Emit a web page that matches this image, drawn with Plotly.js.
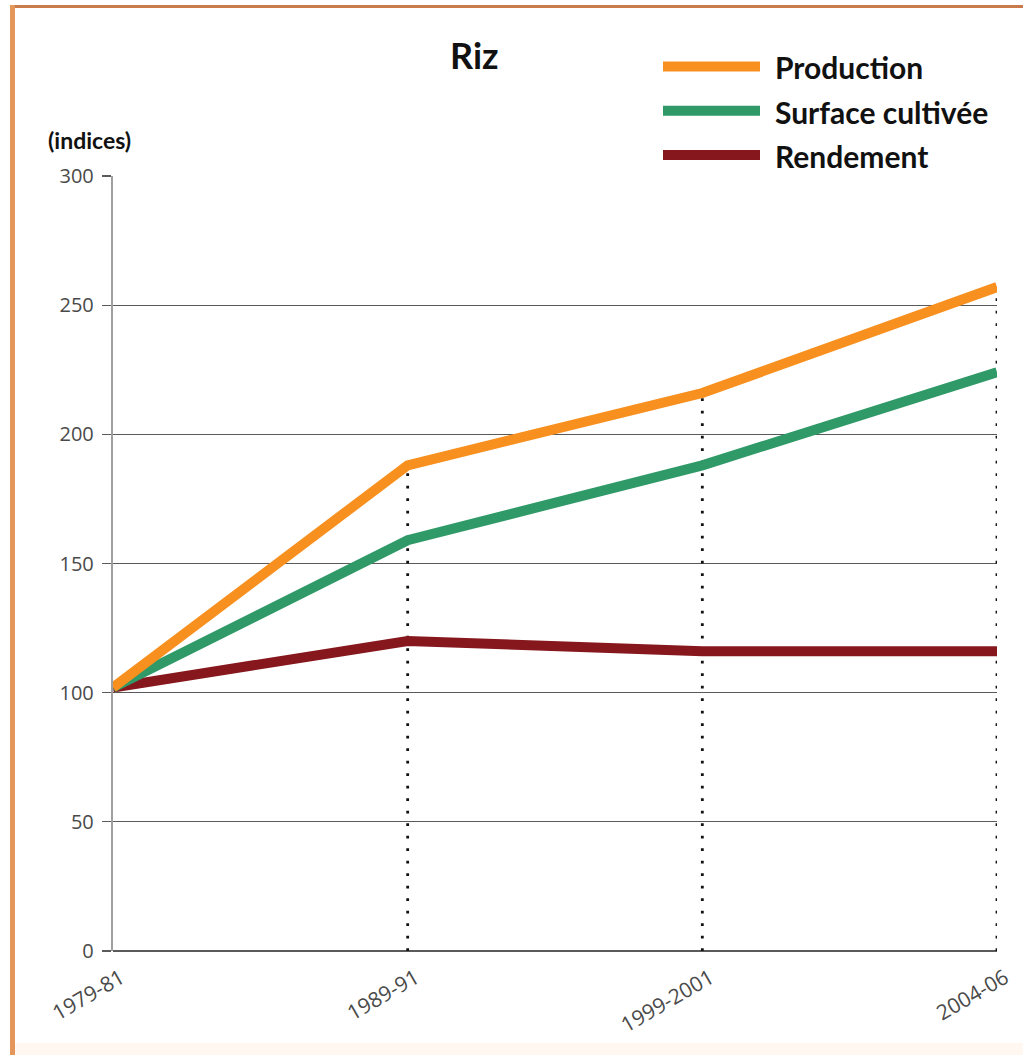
<!DOCTYPE html>
<html>
<head>
<meta charset="utf-8">
<script src="https://cdn.plot.ly/plotly-3.0.1.min.js"></script>
<style>
  html, body { margin: 0; padding: 0; background: #ffffff; }
  #wrap { position: relative; width: 1023px; height: 1055px; overflow: hidden; }
  #chart { position: absolute; left: 0; top: 0; width: 1023px; height: 1055px; }
  .frame { position: absolute; pointer-events: none; }
</style>
</head>
<body>
<div id="wrap">
  <div id="chart"></div>
  <div class="frame" style="left:10px; top:5px; width:1013px; height:3px; background:#c97b4b;"></div>
  <div class="frame" style="left:10px; top:5px; width:5px; height:1050px; background:#e5965a;"></div>
  <div class="frame" style="left:15px; top:1043px; width:1008px; height:12px; background:#fff7f0;"></div>
</div>
<script>
// Périodes (moyennes triennales)
const periods = ['1979-81', '1989-91', '1999-2001', '2004-06'];

// Indices (base 1979-81)
const production = [102, 188, 216, 257];
const surface = [102, 159, 188, 224];
const rendement = [102, 120, 116, 116];

const seriesNames = ['Production', 'Surface cultivée', 'Rendement'];
const seriesColors = ['#f7901e', '#2f9a68', '#86171d'];
const seriesValues = [production, surface, rendement];

const yTicks = [0, 50, 100, 150, 200, 250, 300];

const traces = [];

// Repères pointillés sous chaque période, jusqu'au niveau de la production
for (let i = 1; i < periods.length; i++) {
  traces.push({
    type: 'scatter',
    mode: 'lines',
    x: [periods[i], periods[i]],
    y: [0, production[i]],
    line: { color: '#111111', width: 2.8, dash: '2.8px,9.7px' },
    hoverinfo: 'skip',
    showlegend: false
  });
}

// Courbes (la production au premier plan)
for (let s = seriesValues.length - 1; s >= 0; s--) {
  traces.push({
    type: 'scatter',
    mode: 'lines',
    name: seriesNames[s],
    x: periods,
    y: seriesValues[s],
    line: { color: seriesColors[s], width: 10 },
    showlegend: false
  });
}

// Légende dessinée à la main : trait épais + libellé
const shapes = [];
const annotations = [];
const legendTop = 66.5;   // px depuis le haut de la figure
const legendStep = 44.3;
const H = 1055, M_T = 176, M_B = 104, M_L = 113, M_R = 26;
const plotH = H - M_T - M_B, plotW = 1023 - M_L - M_R;
const px2paperY = py => (H - M_B - py) / plotH;
const px2paperX = px => (px - M_L) / plotW;

seriesNames.forEach((name, i) => {
  const yy = px2paperY(legendTop + i * legendStep);
  shapes.push({
    type: 'line', xref: 'paper', yref: 'paper',
    x0: px2paperX(663), x1: px2paperX(760), y0: yy, y1: yy,
    line: { color: seriesColors[i], width: 10 }
  });
  annotations.push({
    xref: 'paper', yref: 'paper', x: px2paperX(773), y: yy - 1 / plotH,
    xanchor: 'left', yanchor: 'middle', showarrow: false,
    text: name,
    font: { family: 'Lato, "Open Sans", sans-serif', size: 30, color: '#111111', weight: 'bold' }
  });
});

annotations.push({
  xref: 'paper', yref: 'paper', x: px2paperX(46), y: px2paperY(140),
  xanchor: 'left', yanchor: 'middle', showarrow: false,
  text: '(indices)',
  font: { family: 'Lato, "Open Sans", sans-serif', size: 23, color: '#111111', weight: 'bold' }
});

const layout = {
  width: 1023,
  height: 1055,
  margin: { l: M_L, r: M_R, t: M_T, b: M_B },
  paper_bgcolor: 'rgba(0,0,0,0)',
  plot_bgcolor: 'rgba(0,0,0,0)',
  showlegend: false,
  title: {
    text: 'Riz',
    xref: 'paper', x: px2paperX(450), xanchor: 'left',
    yref: 'container', y: 1 - 56 / H, yanchor: 'middle',
    font: { family: 'Lato, "Open Sans", sans-serif', size: 36, color: '#111111', weight: 'bold' }
  },
  xaxis: {
    type: 'category',
    categoryarray: periods,
    range: [0, periods.length - 1],
    showgrid: false,
    zeroline: false,
    showline: false,
    ticks: '',
    tickangle: -30,
    ticklabelstandoff: 10,
    ticklabelshift: 8,
    tickfont: { family: '"Open Sans", sans-serif', size: 21, color: '#4a4a4a' },
    fixedrange: true
  },
  yaxis: {
    range: [0, 300],
    tickvals: yTicks,
    ticktext: yTicks.map(String),
    showgrid: true,
    gridcolor: '#5a5a5a',
    gridwidth: 1.3,
    zeroline: true,
    zerolinecolor: '#5a5a5a',
    zerolinewidth: 1.5,
    showline: true,
    linecolor: '#a0a0a0',
    linewidth: 2.2,
    ticks: 'outside',
    ticklen: 9,
    tickwidth: 1.3,
    tickcolor: '#5a5a5a',
    ticklabelstandoff: 4,
    tickfont: { family: '"Open Sans", sans-serif', size: 20, color: '#4a4a4a' },
    fixedrange: true
  },
  shapes: shapes,
  annotations: annotations
};

Plotly.newPlot('chart', traces, layout, { displayModeBar: false, staticPlot: true });
</script>
</body>
</html>
